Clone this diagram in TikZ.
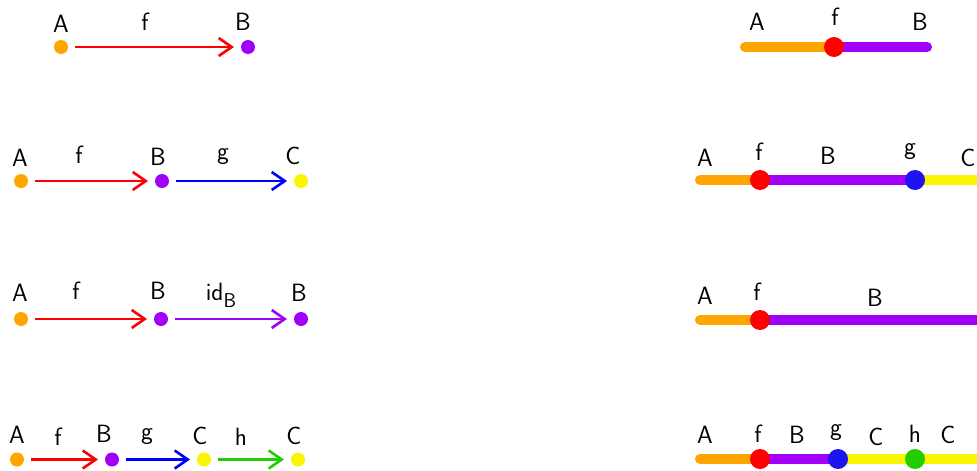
\documentclass[tikz,border=0pt]{standalone}
\usetikzlibrary{arrows.meta}
\definecolor{cOrange}{RGB}{255,165,0}
\definecolor{cPurple}{RGB}{160,0,250}
\definecolor{cRed}{RGB}{255,0,0}
\definecolor{cBlue}{RGB}{0,0,255}
\definecolor{cBlueDot}{RGB}{30,20,240}
\definecolor{cYellow}{RGB}{250,245,0}
\definecolor{cGreen}{RGB}{35,205,0}
\begin{document}
\begin{tikzpicture}[x=1pt,y=-1pt,
  dot/.style={circle,inner sep=0pt,minimum size=14pt,outer sep=7pt},
  bigdot/.style={circle,inner sep=0pt,minimum size=20pt},
  arr/.style={line width=2.6pt,-{Straight Barb[length=13pt,width=18pt,line width=2.6pt]}},
  band/.style={line width=10pt,line cap=round},
  lbl/.style={font=\sffamily\fontsize{25}{28}\selectfont,inner sep=0pt}]
\useasboundingbox (0,0) rectangle (977,471);
\clip (0,0) rectangle (977,471);
\fill[white] (0,0) rectangle (977,471);

% ---------- Row 1 left ----------
\node[dot,fill=cOrange] (a1) at (61,47) {};
\node[dot,fill=cPurple] (b1) at (248,47) {};
\draw[arr,cRed] (a1) -- (b1);
\node[lbl] (la1) at (61,24) {A};
\node[lbl] (lf1) at (145,22) {f};
\node[lbl] (lb1) at (243,22) {B};

% ---------- Row 1 right ----------
\coordinate (s1) at (745,47);
\coordinate (e1) at (927,47);
\coordinate (pf1) at (834,47);
\draw[band,cOrange] (s1) -- (pf1);
\draw[band,cPurple] (pf1) -- (e1);
\node[bigdot,fill=cRed] (rf1) at (pf1) {};
\node[lbl] (rla1) at (757,22) {A};
\node[lbl] (rlf1) at (835,17) {f};
\node[lbl] (rlb1) at (920,22) {B};

% ---------- Row 2 left ----------
\node[dot,fill=cOrange] (a2) at (21,181) {};
\node[dot,fill=cPurple] (b2) at (162,181) {};
\node[dot,fill=cYellow] (c2) at (301,181) {};
\draw[arr,cRed] (a2) -- (b2);
\draw[arr,cBlue] (b2) -- (c2);
\node[lbl] (la2) at (20,158) {A};
\node[lbl] (lf2) at (79,155) {f};
\node[lbl] (lb2) at (158,157) {B};
\node[lbl] (lg2) at (223,157) {g};
\node[lbl] (lc2) at (293,156) {C};

% ---------- Row 2 right ----------
\coordinate (s2) at (700,180);
\coordinate (e2) at (990,180);
\coordinate (pf2) at (760,180);
\coordinate (pg2) at (915,180);
\draw[band,cOrange] (s2) -- (pf2);
\draw[band,cPurple] (pf2) -- (pg2);
\draw[band,cYellow] (pg2) -- (e2);
\node[bigdot,fill=cRed] (rf2) at (pf2) {};
\node[bigdot,fill=cBlueDot] (rg2) at (pg2) {};
\node[lbl] (rla2) at (705,158) {A};
\node[lbl] (rlf2) at (759,152) {f};
\node[lbl] (rlb2) at (828,156) {B};
\node[lbl] (rlg2) at (910,152) {g};
\node[lbl] (rlc2) at (968,158) {C};

% ---------- Row 3 left ----------
\node[dot,fill=cOrange] (a3) at (21,319) {};
\node[dot,fill=cPurple] (b3) at (161,319) {};
\node[dot,fill=cPurple] (bb3) at (301,319) {};
\draw[arr,cRed] (a3) -- (b3);
\draw[arr,cPurple] (b3) -- (bb3);
\node[lbl] (la3) at (20,293) {A};
\node[lbl] (lf3) at (76,291) {f};
\node[lbl] (lb3) at (158,291) {B};
\node[lbl] (lid3) at (221,295) {id\raisebox{-7pt}{\fontsize{20}{22}\selectfont B}};
\node[lbl] (lbb3) at (299,293) {B};

% ---------- Row 3 right ----------
\coordinate (s3) at (700,320);
\coordinate (e3) at (990,320);
\coordinate (pf3) at (760,320);
\draw[band,cOrange] (s3) -- (pf3);
\draw[band,cPurple] (pf3) -- (e3);
\node[bigdot,fill=cRed] (rf3) at (pf3) {};
\node[lbl] (rla3) at (705,296) {A};
\node[lbl] (rlf3) at (757,292) {f};
\node[lbl] (rlb3) at (875,298) {B};

% ---------- Row 4 left ----------
\node[dot,fill=cOrange] (a4) at (17,459.5) {};
\node[dot,fill=cPurple] (b4) at (112,459.5) {};
\node[dot,fill=cYellow] (c4) at (204,459.5) {};
\node[dot,fill=cYellow] (cc4) at (298,459.5) {};
\draw[arr,cRed] (a4) -- (b4);
\draw[arr,cBlue] (b4) -- (c4);
\draw[arr,cGreen] (c4) -- (cc4);
\node[lbl] (la4) at (17,435) {A};
\node[lbl] (lf4) at (58,437) {f};
\node[lbl] (lb4) at (104,434) {B};
\node[lbl] (lg4) at (147,437) {g};
\node[lbl] (lc4) at (200,436) {C};
\node[lbl] (lh4) at (241,437) {h};
\node[lbl] (lcc4) at (294,436) {C};

% ---------- Row 4 right ----------
\coordinate (s4) at (700,459);
\coordinate (e4) at (990,459);
\coordinate (pf4) at (760,459);
\coordinate (pg4) at (838,459);
\coordinate (ph4) at (915,459);
\draw[band,cOrange] (s4) -- (pf4);
\draw[band,cPurple] (pf4) -- (pg4);
\draw[band,cYellow] (pg4) -- (e4);
\node[bigdot,fill=cRed] (rf4) at (pf4) {};
\node[bigdot,fill=cBlueDot] (rg4) at (pg4) {};
\node[bigdot,fill=cGreen] (rh4) at (ph4) {};
\node[lbl] (rla4) at (705,435) {A};
\node[lbl] (rlf4) at (758,434) {f};
\node[lbl] (rlb4) at (797,435) {B};
\node[lbl] (rlg4) at (836,433) {g};
\node[lbl] (rlc4) at (876,437) {C};
\node[lbl] (rlh4) at (915,434) {h};
\node[lbl] (rlcc4) at (948,435) {C};
\end{tikzpicture}
\end{document}
